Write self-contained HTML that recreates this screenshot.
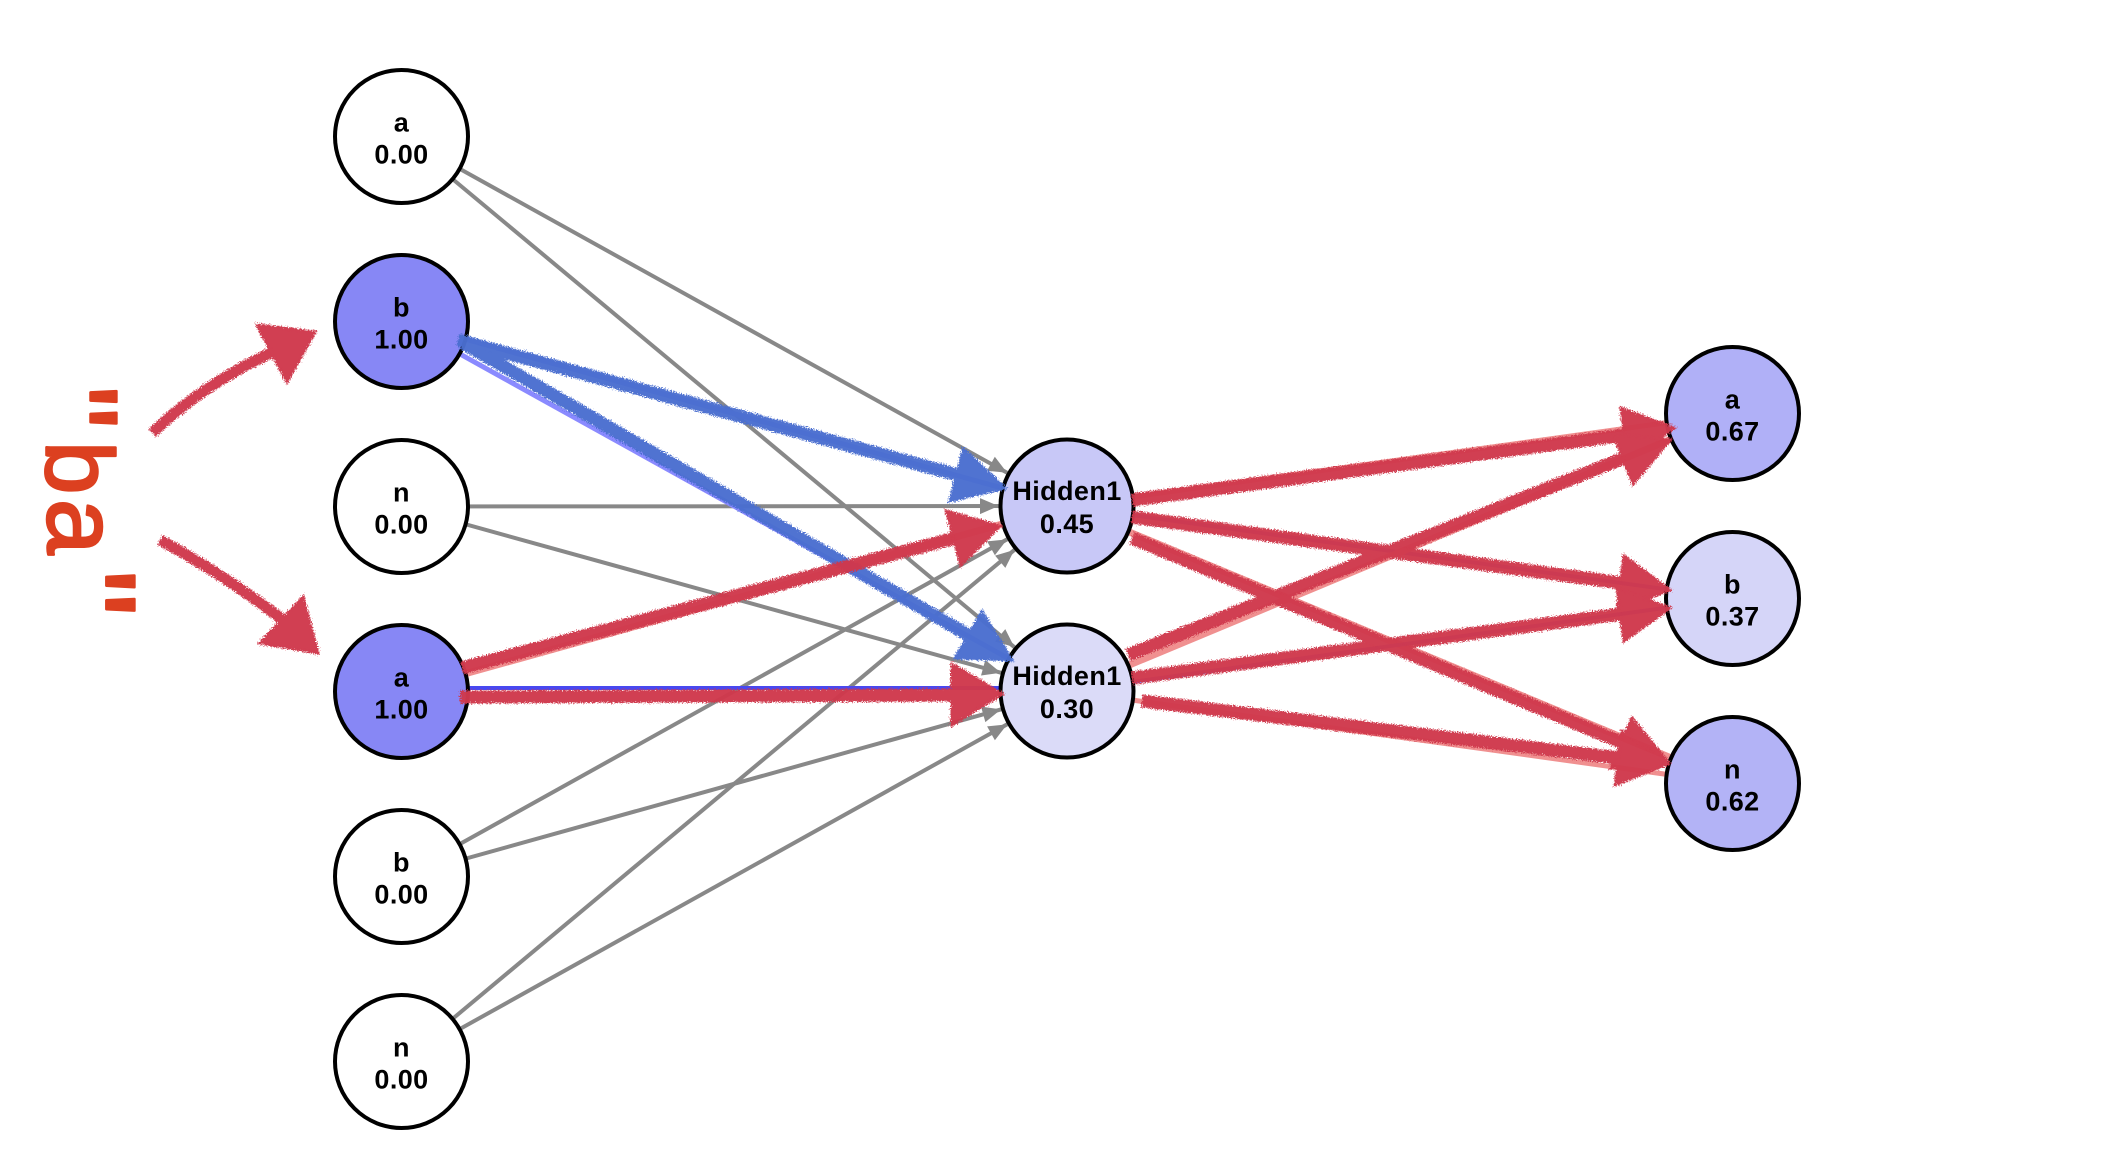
<!DOCTYPE html>
<html>
<head>
<meta charset="utf-8">
<style>
  html,body{margin:0;padding:0;background:#fff;}
  svg{display:block;}
  .lbl{font-family:"Liberation Sans",Arial,sans-serif;font-weight:bold;font-size:27px;fill:#000;text-anchor:middle;letter-spacing:0.4px;}
  .hand{font-family:"Liberation Sans",Arial,sans-serif;font-weight:normal;fill:#dc4020;stroke:#dc4020;stroke-width:2.5;stroke-linejoin:round;stroke-linecap:round;}
</style>
</head>
<body>
<svg width="2128" height="1164" viewBox="0 0 2128 1164" xmlns="http://www.w3.org/2000/svg">
  <defs>
    <marker id="ag" markerUnits="userSpaceOnUse" orient="auto" refX="0" refY="0" markerWidth="10" markerHeight="10" overflow="visible">
      <path d="M-68.5,0 L-87,-8 L-87,8 Z" fill="#888888"/>
    </marker>
    <filter id="rough" filterUnits="userSpaceOnUse" x="0" y="0" width="2128" height="1164">
      <feTurbulence type="fractalNoise" baseFrequency="0.8" numOctaves="2" seed="4" result="n"/>
      <feDisplacementMap in="SourceGraphic" in2="n" scale="7" xChannelSelector="R" yChannelSelector="G"/>
    </filter>
  </defs>

  <rect x="0" y="0" width="2128" height="1164" fill="#fff"/>

  <!-- gray edges input -> hidden -->
  <g stroke="#888888" stroke-width="4" fill="none" marker-end="url(#ag)">
    <line x1="401.5" y1="136.5" x2="1067" y2="506"/>
    <line x1="401.5" y1="136.5" x2="1067" y2="691"/>
    <line x1="401.5" y1="506.5" x2="1067" y2="506"/>
    <line x1="401.5" y1="506.5" x2="1067" y2="691"/>
    <line x1="401.5" y1="876.5" x2="1067" y2="506"/>
    <line x1="401.5" y1="876.5" x2="1067" y2="691"/>
    <line x1="401.5" y1="1061.5" x2="1067" y2="506"/>
    <line x1="401.5" y1="1061.5" x2="1067" y2="691"/>
  </g>

  <!-- underlying colored edges -->
  <g fill="none">
    <line x1="401.5" y1="321.5" x2="1067" y2="506" stroke="#8080f0" stroke-width="5"/>
    <line x1="401.5" y1="321.5" x2="1067" y2="691" stroke="#8a8aff" stroke-width="5"/>
    <line x1="401.5" y1="691.5" x2="1067" y2="506" stroke="#f09090" stroke-width="7"/>
    <line x1="401.5" y1="688" x2="1067" y2="688" stroke="#4848f0" stroke-width="4"/>
    <line x1="1067" y1="506" x2="1732.5" y2="413.5" stroke="#f09090" stroke-width="5"/>
    <line x1="1067" y1="506" x2="1732.5" y2="598.5" stroke="#7070f0" stroke-width="4"/>
    <line x1="1067" y1="506" x2="1732.5" y2="783.5" stroke="#f09090" stroke-width="7"/>
    <line x1="1067" y1="691" x2="1732.5" y2="413.5" stroke="#f09090" stroke-width="7"/>
    <line x1="1067" y1="691" x2="1732.5" y2="598.5" stroke="#7070f0" stroke-width="4"/>
    <line x1="1067" y1="691" x2="1732.5" y2="783.5" stroke="#f09090" stroke-width="5"/>
  </g>

  <!-- nodes -->
  <g stroke="#000" stroke-width="4">
    <circle cx="401.5" cy="136.5" r="66.5" fill="#ffffff"/>
    <circle cx="401.5" cy="321.5" r="66.5" fill="#8787f5"/>
    <circle cx="401.5" cy="506.5" r="66.5" fill="#ffffff"/>
    <circle cx="401.5" cy="691.5" r="66.5" fill="#8787f5"/>
    <circle cx="401.5" cy="876.5" r="66.5" fill="#ffffff"/>
    <circle cx="401.5" cy="1061.5" r="66.5" fill="#ffffff"/>
    <circle cx="1067" cy="506" r="66.5" fill="#c8c8f7"/>
    <circle cx="1067" cy="691" r="66.5" fill="#dbdbf8"/>
    <circle cx="1732.5" cy="413.5" r="66.5" fill="#b0b0f7"/>
    <circle cx="1732.5" cy="598.5" r="66.5" fill="#d5d5f8"/>
    <circle cx="1732.5" cy="783.5" r="66.5" fill="#b3b3f6"/>
  </g>

  <!-- node labels -->
  <g>
    <text class="lbl" x="401.5" y="131.5">a</text><text class="lbl" x="401.5" y="163.5">0.00</text>
    <text class="lbl" x="401.5" y="316.5">b</text><text class="lbl" x="401.5" y="348.5">1.00</text>
    <text class="lbl" x="401.5" y="501.5">n</text><text class="lbl" x="401.5" y="533.5">0.00</text>
    <text class="lbl" x="401.5" y="686.5">a</text><text class="lbl" x="401.5" y="718.5">1.00</text>
    <text class="lbl" x="401.5" y="871.5">b</text><text class="lbl" x="401.5" y="903.5">0.00</text>
    <text class="lbl" x="401.5" y="1056.5">n</text><text class="lbl" x="401.5" y="1088.5">0.00</text>
    <text class="lbl" x="1067" y="500">Hidden1</text><text class="lbl" x="1067" y="533">0.45</text>
    <text class="lbl" x="1067" y="685">Hidden1</text><text class="lbl" x="1067" y="718">0.30</text>
    <text class="lbl" x="1732.5" y="408.5">a</text><text class="lbl" x="1732.5" y="440.5">0.67</text>
    <text class="lbl" x="1732.5" y="593.5">b</text><text class="lbl" x="1732.5" y="625.5">0.37</text>
    <text class="lbl" x="1732.5" y="778.5">n</text><text class="lbl" x="1732.5" y="810.5">0.62</text>
  </g>

  <!-- crayon overlays -->
  <g filter="url(#rough)">
    <!-- blue -->
    <g stroke="#4a6fd0" fill="#4a6fd0" stroke-width="13" opacity="0.97">
      <line x1="458" y1="340" x2="958" y2="475"/>
      <polygon points="1005,488 950,501 963.5,449" stroke-width="3"/>
      <line x1="463" y1="343" x2="970" y2="636"/>
      <polygon points="1012,660 955,658 982,612" stroke-width="3"/>
    </g>
    <!-- red -->
    <g stroke="#d0384c" fill="#d0384c" stroke-width="13" opacity="0.97">
      <line x1="462" y1="668" x2="955" y2="538"/>
      <polygon points="1000,526 960.7,565.4 946.5,511.2" stroke-width="3"/>
      <line x1="460" y1="697" x2="953" y2="695"/>
      <polygon points="1002,694 952,664 952,725" stroke-width="3"/>

      <line x1="1132" y1="500" x2="1625" y2="435"/>
      <polygon points="1674,428 1628,461 1621,408" stroke-width="3"/>
      <line x1="1128" y1="655" x2="1624" y2="458"/>
      <polygon points="1670,440 1633,484 1613,433" stroke-width="3"/>
      <line x1="1132" y1="517" x2="1621" y2="583"/>
      <polygon points="1670,590 1617,610 1624,556" stroke-width="3"/>
      <line x1="1132" y1="678" x2="1621" y2="614"/>
      <polygon points="1670,608 1624,641 1617,588" stroke-width="3"/>
      <line x1="1132" y1="538" x2="1623" y2="743"/>
      <polygon points="1668,762 1611,768 1632,718" stroke-width="3"/>
      <line x1="1142" y1="701" x2="1619" y2="758"/>
      <polygon points="1668,764 1615,785 1622,731" stroke-width="3"/>
    </g>
    <g stroke="#d0384c" fill="#d0384c" stroke-width="11" opacity="0.97">
      <path d="M152,433 Q205,383 273,352" fill="none"/>
      <polygon points="315,332 257,325 287,382" stroke-width="3"/>
      <path d="M160,540 Q225,575 283,620" fill="none"/>
      <polygon points="318,653 260,643 303,597" stroke-width="3"/>
    </g>
  </g>

  <!-- handwritten "ba" annotation, rotated -->
  <g>
    <text class="hand" font-size="120" transform="translate(34,386) rotate(90)">"</text>
    <text class="hand" font-size="96" transform="translate(46,441) rotate(90)">b</text>
    <text class="hand" font-size="100" transform="translate(48,499) rotate(90)">a</text>
    <text class="hand" font-size="130" transform="translate(45,570) rotate(90)">"</text>
  </g>
</svg>
</body>
</html>
